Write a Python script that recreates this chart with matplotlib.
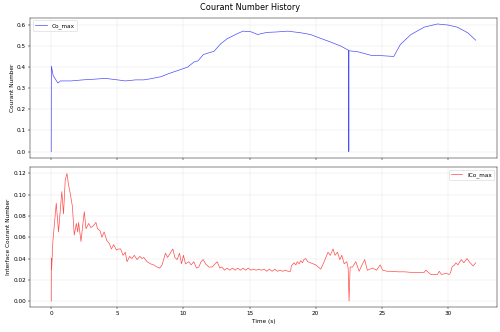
import matplotlib.pyplot as plt

# Co_max (上段)
co_time = [0.0, 0.01, 0.15, 0.5, 0.7, 1.5, 2.4, 3.2, 4.1, 5.0, 5.6, 6.4, 7.0, 7.5,
           8.3, 8.9, 9.6, 10.3, 10.8, 11.1, 11.5, 12.0, 12.3, 12.8, 13.3, 14.1, 14.5,
           15.1, 15.6, 16.3, 17.0, 17.9, 18.9, 19.6, 20.4, 21.1, 21.9, 22.49, 22.5,
           22.51, 23.2, 24.2, 24.9, 25.9, 26.4, 27.2, 28.2, 29.2, 30.0, 30.7, 31.5, 32.1]
co_max = [0.0, 0.405, 0.36, 0.325, 0.335, 0.335, 0.34, 0.343, 0.347, 0.34, 0.335, 0.34,
          0.34, 0.345, 0.355, 0.37, 0.385, 0.40, 0.425, 0.43, 0.46, 0.47, 0.475, 0.51,
          0.535, 0.56, 0.571, 0.568, 0.555, 0.565, 0.567, 0.571, 0.563, 0.555, 0.536,
          0.52, 0.50, 0.48, 0.0, 0.478, 0.473, 0.456, 0.455, 0.451, 0.508, 0.555, 0.59,
          0.605, 0.60, 0.59, 0.563, 0.528]

# ICo_max (下段)
ico_time = [0.0, 0.01, 0.03, 0.13, 0.38, 0.55, 0.8, 0.93, 1.06, 1.19, 1.3, 1.44, 1.6,
            1.74, 1.9, 2.0, 2.07, 2.25, 2.37, 2.5, 2.63, 2.83, 3.0, 3.2, 3.38, 3.5, 3.7,
            3.83, 4.0, 4.2, 4.4, 4.55, 4.72, 4.93, 5.1, 5.25, 5.43, 5.6, 5.73, 5.93,
            6.1, 6.28, 6.49, 6.7, 6.87, 7.0, 7.25, 7.5, 7.75, 8.0, 8.2, 8.38, 8.64, 8.8,
            9.0, 9.19, 9.35, 9.52, 9.7, 9.85, 10.0, 10.15, 10.4, 10.58, 10.78, 10.98,
            11.16, 11.33, 11.49, 11.67, 11.92, 12.17, 12.55, 12.75, 12.9,
            13.1, 13.3, 13.5, 13.7, 13.9, 14.1, 14.3, 14.5, 14.7, 14.9, 15.1, 15.3,
            15.5, 15.7, 15.9, 16.1, 16.3, 16.5, 16.7, 16.9, 17.1, 17.3, 17.5, 17.7,
            17.9, 18.1, 18.15, 18.36, 18.5, 18.6, 18.75, 18.86, 19.0, 19.1, 19.24,
            19.4, 19.6, 20.0, 20.38, 20.6, 20.93, 21.1, 21.31, 21.46, 21.64, 21.82,
            21.97, 22.15, 22.35, 22.45, 22.52, 22.6, 22.78, 23.03, 23.28, 23.5, 23.7,
            23.9, 24.3, 24.6, 24.87, 25.06, 25.4, 25.7, 26.2, 26.7, 27.2, 27.7, 28.2,
            28.33, 28.7, 29.2, 29.34, 29.5, 29.85, 30.1, 30.2, 30.3, 30.5, 30.6, 30.75,
            31.0, 31.2, 31.44, 31.6, 31.9, 32.1]
ico_max = [0.0, 0.040, 0.030, 0.057, 0.092, 0.065, 0.103, 0.082, 0.114, 0.120, 0.110,
           0.101, 0.089, 0.062, 0.073, 0.065, 0.074, 0.056, 0.070, 0.084, 0.068, 0.073,
           0.069, 0.071, 0.074, 0.068, 0.066, 0.060, 0.065, 0.057, 0.054, 0.049, 0.053,
           0.048, 0.049, 0.049, 0.043, 0.046, 0.037, 0.042, 0.040, 0.043, 0.039, 0.042,
           0.040, 0.041, 0.037, 0.035, 0.034, 0.032, 0.031, 0.034, 0.045, 0.041, 0.045,
           0.049, 0.041, 0.039, 0.045, 0.035, 0.043, 0.035, 0.037, 0.034, 0.037, 0.031,
           0.032, 0.037, 0.039, 0.035, 0.032, 0.032, 0.037, 0.031, 0.032,
           0.029, 0.031, 0.029, 0.031, 0.029, 0.031, 0.029, 0.031, 0.029, 0.031, 0.029,
           0.030, 0.029, 0.030, 0.029, 0.030, 0.028, 0.030, 0.028, 0.030, 0.028, 0.029,
           0.028, 0.029, 0.028, 0.028, 0.033, 0.036, 0.034, 0.037, 0.035, 0.038, 0.036,
           0.039, 0.040, 0.037, 0.036, 0.034, 0.030, 0.036, 0.046, 0.043, 0.049, 0.043,
           0.046, 0.039, 0.043, 0.035, 0.037, 0.031, 0.0, 0.032, 0.032, 0.037, 0.028,
           0.034, 0.039, 0.029, 0.031, 0.029, 0.034, 0.029, 0.028, 0.028, 0.0275,
           0.0275, 0.027, 0.027, 0.027, 0.029, 0.025, 0.025, 0.028, 0.025, 0.026, 0.025,
           0.027, 0.032, 0.034, 0.036, 0.034, 0.039, 0.036, 0.040, 0.037, 0.033, 0.036]

fig, (ax1, ax2) = plt.subplots(2, 1, figsize=(12, 7.968), dpi=500 / 12, sharex=True)
fig.suptitle('Courant Number History', fontsize=14, y=0.99)

ax1.plot(co_time, co_max, color='blue', alpha=0.7, linewidth=1.2, label='Co_max')
ax1.set_ylabel('Courant Number')
ax1.legend(loc='upper left')
ax1.grid(True, alpha=0.3)

ax2.plot(ico_time, ico_max, color='red', alpha=0.7, linewidth=1.2, label='ICo_max')
ax2.set_ylabel('Interface Courant Number')
ax2.set_xlabel('Time (s)')
ax2.legend(loc='upper right')
ax2.grid(True, alpha=0.3)

plt.subplots_adjust(left=0.06, right=0.994, top=0.947, bottom=0.074, hspace=0.065)
plt.savefig('out.png')
